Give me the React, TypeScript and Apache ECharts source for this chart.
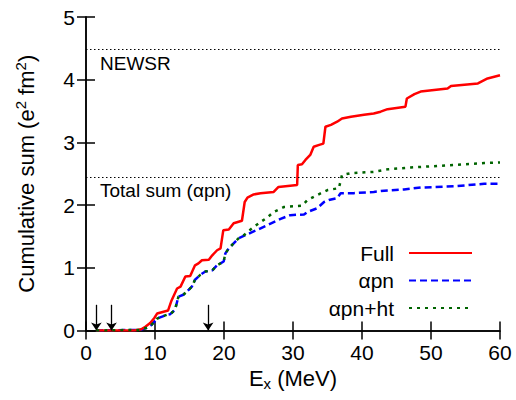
import React, { useEffect, useRef } from "react";
import * as echarts from "echarts";

const xTicks = { min: 0, max: 60, interval: 10 };
const yTicks = { min: 0, max: 5, interval: 1 };

const fullData: [number, number][] = [
  [1.5, 0], [7, 0], [8, 0.02], [8.6, 0.06], [9.3, 0.12], [9.9, 0.2], [10.3, 0.27], [11.9, 0.32],
  [12.4, 0.48], [13.2, 0.67], [13.7, 0.7], [14.4, 0.86], [15.1, 0.87], [15.8, 1.04], [16.3, 1.07],
  [16.8, 1.12], [17.8, 1.13], [18.3, 1.2], [19.0, 1.28], [19.5, 1.31], [19.9, 1.6], [20.7, 1.61],
  [21.4, 1.71], [22.6, 1.75], [23.0, 2.05], [23.4, 2.12], [24.3, 2.17], [25.3, 2.19], [27.2, 2.21],
  [27.9, 2.29], [30.6, 2.32], [30.7, 2.64], [31.3, 2.65], [31.8, 2.72], [32.5, 2.8], [33.0, 2.93],
  [33.8, 2.96], [34.4, 2.98], [34.7, 3.25], [35.5, 3.28], [36.4, 3.33], [37.1, 3.38], [38.4, 3.41],
  [40.3, 3.44], [41.7, 3.46], [42.7, 3.49], [43.7, 3.53], [46.3, 3.57], [46.5, 3.7], [47.6, 3.77],
  [48.5, 3.81], [52.4, 3.86], [52.9, 3.9], [56.8, 3.94], [58.2, 4.02], [60, 4.07],
];

const apnData: [number, number][] = [
  [1.5, 0], [7.8, 0.01], [9.0, 0.05], [9.5, 0.09], [10.3, 0.19], [11.7, 0.25], [12.2, 0.26],
  [12.9, 0.33], [13.4, 0.54], [14.1, 0.57], [14.9, 0.65], [15.35, 0.7], [15.8, 0.81], [16.6, 0.89],
  [17.3, 0.94], [18.3, 0.96], [19.0, 1.04], [19.95, 1.1], [20.2, 1.23], [20.7, 1.31], [21.4, 1.39],
  [22.1, 1.47], [23.1, 1.52], [24.3, 1.58], [25.3, 1.63], [26.25, 1.68], [28.2, 1.78], [29.6, 1.84],
  [31.6, 1.85], [32.1, 1.89], [33.5, 1.95], [34.5, 2.05], [35.2, 2.08], [36.4, 2.11], [36.9, 2.19],
  [38.8, 2.19], [41.7, 2.21], [43.2, 2.23], [46.1, 2.25], [48.5, 2.28], [53.4, 2.3], [57.7, 2.34],
  [60, 2.34],
];

const apnHtData: [number, number][] = [
  [1.5, 0], [7.8, 0.01], [9.0, 0.05], [9.5, 0.09], [10.3, 0.19], [11.7, 0.25], [12.2, 0.26],
  [12.9, 0.33], [13.4, 0.54], [14.1, 0.57], [14.9, 0.65], [15.35, 0.7], [15.8, 0.81], [16.6, 0.89],
  [17.3, 0.94], [18.3, 0.96], [19.0, 1.04], [19.95, 1.1], [20.2, 1.23], [20.7, 1.31], [21.4, 1.39],
  [22.1, 1.47], [23.0, 1.53], [23.5, 1.58], [24.3, 1.65], [25.3, 1.73], [26.25, 1.8], [27.2, 1.89],
  [28.7, 1.97], [31.3, 1.99], [32.1, 2.08], [33.5, 2.16], [35.0, 2.24], [36.65, 2.27], [37.1, 2.48],
  [38.4, 2.51], [41.7, 2.53], [43.7, 2.57], [47.1, 2.6], [53.4, 2.64], [57.7, 2.67], [60, 2.68],
];

const seriesNames = ["Full", "αpn", "αpn+ht"];
const arrowE = [1.5, 3.7, 17.7];
const arrowTop = 0.41;
const refLines = [
  { value: 4.48, label: "NEWSR" },
  { value: 2.45, label: "Total sum (αpn)" },
];

const FONT = "Liberation Sans, Arial, Helvetica, sans-serif";

export default function App() {
  const ref = useRef<HTMLDivElement>(null);
  useEffect(() => {
    if (!ref.current) return;
    const chart = echarts.init(ref.current, undefined, { renderer: "svg" });
    const axisLine = { show: true, lineStyle: { color: "#000", width: 1.5 } };
    const axisTick = { show: true, inside: true, length: 9, lineStyle: { color: "#000", width: 1.5 } };
    const tickLabel = { fontSize: 21, color: "#000", fontFamily: FONT };
    chart.setOption({
      animation: false,
      backgroundColor: "#fff",
      textStyle: { fontFamily: FONT },
      grid: { left: 86, right: 16, top: 17, bottom: 69.5, containLabel: false },
      legend: {
        data: seriesNames,
        orient: "vertical",
        align: "right",
        right: 43,
        top: 242.5,
        padding: 0,
        itemWidth: 63,
        itemHeight: 14,
        itemGap: 6.5,
        itemStyle: { opacity: 0 },
        textStyle: { fontSize: 21, color: "#000", fontFamily: FONT, lineHeight: 21, padding: [0, 10, 0, 0] },
      },
      xAxis: [
        {
          type: "value", ...xTicks, position: "bottom",
          axisLine, axisTick, splitLine: { show: false },
          axisLabel: { ...tickLabel, margin: 11 },
          name: "E{sub|x} (MeV)", nameLocation: "middle", nameGap: 27,
          nameTextStyle: {
            fontSize: 22, color: "#000", fontFamily: FONT,
            rich: { sub: { fontSize: 15, color: "#000", fontFamily: FONT, padding: [11, 0, 0, 0] } },
          },
        },
        {
          type: "value", ...xTicks, position: "top",
          axisLine, axisTick, splitLine: { show: false }, axisLabel: { show: false },
        },
      ],
      yAxis: [
        {
          type: "value", ...yTicks, position: "left",
          axisLine, axisTick, splitLine: { show: false },
          axisLabel: { ...tickLabel, margin: 11 },
          name: "Cumulative sum (e{sup|2} fm{sup|2})", nameLocation: "middle", nameGap: 47,
          nameTextStyle: {
            fontSize: 22, color: "#000", fontFamily: FONT,
            rich: { sup: { fontSize: 15, color: "#000", fontFamily: FONT, padding: [0, 0, 11, 0] } },
          },
        },
        {
          type: "value", ...yTicks, position: "right",
          axisLine, axisTick, splitLine: { show: false }, axisLabel: { show: false },
        },
      ],
      series: [
        {
          name: "ref", type: "line", data: [], silent: true,
          markLine: {
            silent: true, symbol: "none", animation: false,
            lineStyle: { color: "#000", type: [1.5, 2.5], width: 1 },
            label: {
              show: true, position: "insideStartBottom", color: "#000", fontSize: 19,
              fontFamily: FONT, distance: [14, 4],
            },
            data: refLines.map((r) => ({ yAxis: r.value, label: { formatter: r.label } })),
          },
        },
        {
          name: "arrows", type: "line", data: [], silent: true,
          markLine: {
            silent: true, animation: false,
            symbol: ["none", "arrow"], symbolSize: 8,
            lineStyle: { color: "#000", type: "solid", width: 1.3 },
            label: { show: false },
            data: arrowE.map((e) => [{ coord: [e, arrowTop] }, { coord: [e, 0] }]),
          },
        },
        {
          name: seriesNames[0], type: "line", data: fullData, showSymbol: false, symbol: "none",
          lineStyle: { color: "#ff0000", width: 2.5, type: "solid" },
          itemStyle: { color: "#ff0000" }, z: 4,
        },
        {
          name: seriesNames[1], type: "line", data: apnData, showSymbol: false, symbol: "none",
          lineStyle: { color: "#0000ff", width: 2.5, type: [7, 4] },
          itemStyle: { color: "#0000ff" }, z: 3,
        },
        {
          name: seriesNames[2], type: "line", data: apnHtData, showSymbol: false, symbol: "none",
          lineStyle: { color: "#006400", width: 2.5, type: [3, 5] },
          itemStyle: { color: "#006400" }, z: 5,
        },
      ],
    });
    return () => chart.dispose();
  }, []);
  return (
    <div
      ref={ref}
      style={{ position: "fixed", left: 0, top: 0, width: 516, height: 400, background: "#fff" }}
    />
  );
}
